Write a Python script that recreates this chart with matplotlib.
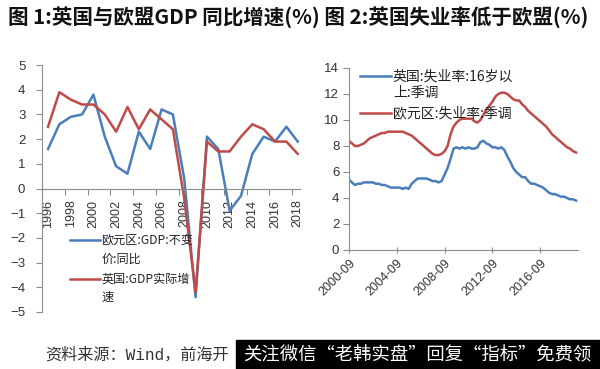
import numpy as np
import pandas as pd
import matplotlib
matplotlib.use("Agg")
import matplotlib.pyplot as plt
from matplotlib.patches import Rectangle

plt.rcParams['font.family'] = ['Liberation Sans', 'Noto Sans CJK SC', 'DejaVu Sans']

# ---- data ---------------------------------------------------------------
years = list(range(1996, 2019))
ez_gdp = [1.6, 2.6, 2.9, 3.0, 3.8, 2.1, 0.9, 0.6, 2.3, 1.6, 3.2, 3.0,
          0.4, -4.4, 2.1, 1.6, -0.9, -0.3, 1.4, 2.1, 1.9, 2.5, 1.9]
uk_gdp = [2.5, 3.9, 3.6, 3.4, 3.4, 3.0, 2.3, 3.3, 2.4, 3.2, 2.8, 2.4,
          -0.4, -4.2, 1.9, 1.5, 1.5, 2.1, 2.6, 2.4, 1.9, 1.9, 1.4]

# quarterly, 2000-09 .. 2019-09
uk_unemp = [5.4, 5.2,
            5.0, 5.1, 5.1, 5.2,
            5.2, 5.2, 5.2, 5.1,
            5.1, 5.0, 5.0, 4.9,
            4.8, 4.8, 4.8, 4.8,
            4.7, 4.8, 4.7, 5.1,
            5.3, 5.5, 5.5, 5.5,
            5.5, 5.4, 5.3, 5.3,
            5.2, 5.3, 5.8, 6.3,
            7.0, 7.8, 7.9, 7.8,
            7.9, 7.8, 7.9, 7.8,
            7.8, 7.9, 8.3, 8.4,
            8.2, 8.1, 7.9, 7.9,
            7.8, 7.9, 7.7, 7.2,
            6.8, 6.3, 6.0, 5.8,
            5.6, 5.6, 5.3, 5.1,
            5.1, 5.0, 4.9, 4.8,
            4.6, 4.4, 4.3, 4.3,
            4.2, 4.1, 4.1, 4.0,
            3.9, 3.9, 3.8]
ez_unemp = [8.4, 8.2,
            8.0, 8.0, 8.1, 8.2,
            8.4, 8.6, 8.7, 8.8,
            8.9, 9.0, 9.0, 9.1,
            9.1, 9.1, 9.1, 9.1,
            9.1, 9.0, 8.9, 8.8,
            8.6, 8.4, 8.2, 8.0,
            7.8, 7.6, 7.4, 7.3,
            7.3, 7.4, 7.6, 8.0,
            8.9, 9.5, 9.8, 10.0,
            10.1, 10.1, 10.1, 10.1,
            9.9, 9.8, 10.0, 10.4,
            10.8, 11.1, 11.4, 11.8,
            12.0, 12.1, 12.1, 12.0,
            11.8, 11.6, 11.5, 11.5,
            11.2, 11.0, 10.7, 10.5,
            10.3, 10.1, 9.9, 9.7,
            9.5, 9.2, 8.9, 8.7,
            8.5, 8.3, 8.1, 7.9,
            7.8, 7.6, 7.5]
dates = pd.date_range("2000-09-01", periods=len(uk_unemp), freq="3MS")
date_ticks = ["2000-09", "2004-09", "2008-09", "2012-09", "2016-09"]

BLUE = "#4A7EBB"
RED = "#BE4B48"
GRAY = "#8C8C8C"
CJK = ['Noto Sans CJK SC', 'DejaVu Sans']

fig = plt.figure(figsize=(6.0, 3.69), dpi=100)

# ---- left: GDP growth ---------------------------------------------------
ax1 = fig.add_axes([42/600, 1-312/369, 258/600, 247/369])
ax1.plot(years, ez_gdp, color=BLUE, lw=1.8)
ax1.plot(years, uk_gdp, color=RED, lw=1.8)
ax1.set_ylim(-5, 5)
ax1.set_xlim(1995.47, 2018.2)
ax1.set_yticks(range(-5, 6))
ax1.spines[['top', 'right']].set_visible(False)
ax1.spines['bottom'].set_position(('data', 0))
for s in ('left', 'bottom'):
    ax1.spines[s].set_color(GRAY)
ax1.set_xticks(np.arange(1995.5, 2018.6, 2))
ax1.set_xticklabels([])
ax1.set_xticks(years[::2], minor=True)
ax1.set_xticklabels([str(y) for y in years[::2]], minor=True, rotation=90,
                    fontsize=9, color="#333333")
ax1.tick_params(axis='x', which='major', length=4, color=GRAY, direction='out')
ax1.tick_params(axis='x', which='minor', length=0, pad=8)
ax1.tick_params(axis='y', length=4, color=GRAY, labelsize=9.5,
                labelcolor="#333333", pad=8)
for ln in ax1.lines:
    ln.set_clip_on(False)

leg1 = [(BLUE, ["欧元区:GDP:不变", "价:同比"], 0.291),
        (RED, ["英国:GDP实际增", "速"], 0.134)]
for col, rows, yy in leg1:
    ax1.plot([0.109, 0.225], [yy, yy], color=col, lw=1.8,
             transform=ax1.transAxes, clip_on=False)
    for i, r in enumerate(rows):
        ax1.text(0.229, yy - i*0.076, r, transform=ax1.transAxes,
                 fontsize=8.7, va='center', ha='left', family=CJK,
                 color="#222222")

# ---- right: unemployment ------------------------------------------------
ax2 = fig.add_axes([349/600, 1-250/369, 229/600, 182/369])
ax2.plot(dates, uk_unemp, color=BLUE, lw=1.8)
ax2.plot(dates, ez_unemp, color=RED, lw=1.8)
ax2.set_ylim(0, 14)
ax2.set_yticks(range(0, 15, 2))
ax2.set_xlim(pd.Timestamp("2000-09-01"), pd.Timestamp("2019-11-01"))
ax2.spines[['top', 'right']].set_visible(False)
for s in ('left', 'bottom'):
    ax2.spines[s].set_color(GRAY)
ax2.set_xticks([pd.Timestamp(d + "-01") for d in date_ticks])
ax2.set_xticklabels(date_ticks, rotation=45, ha='right',
                    rotation_mode='anchor', fontsize=9, color="#333333")
ax2.tick_params(axis='x', length=4, direction='inout', color=GRAY, pad=3)
ax2.tick_params(axis='y', length=4, color=GRAY, labelsize=9.5,
                labelcolor="#333333", pad=3)

leg2 = [(BLUE, ["英国:失业率:16岁以", "上:季调"], 0.956),
        (RED, ["欧元区:失业率:季调"], 0.753)]
for col, rows, yy in leg2:
    ax2.plot([0.048, 0.183], [yy, yy], color=col, lw=1.8,
             transform=ax2.transAxes, clip_on=False)
    for i, r in enumerate(rows):
        ax2.text(0.192, yy - i*0.093, r, transform=ax2.transAxes,
                 fontsize=10, va='center', ha='left', family=CJK,
                 color="#222222")

# ---- titles & footer ----------------------------------------------------
fig.text(8/600, 1-17/369, "图 1:英国与欧盟GDP 同比增速(%) 图 2:英国失业率低于欧盟(%)",
         fontsize=14.8, fontweight='bold', family=CJK, va='center', ha='left',
         color="#111111")
fig.text(45/600, 1-355/369, "资料来源：Wind，前海开", fontsize=11.6,
         family=['Liberation Mono', 'Noto Sans CJK SC', 'DejaVu Sans'],
         va='center', ha='left', color="#333333")
fig.patches.append(Rectangle((236/600, 0), 1 - 236/600, 29/369,
                             transform=fig.transFigure, color="black",
                             zorder=5))
fig.text(243/600, 1-355/369, "关注微信“老韩实盘”回复“指标”免费领",
         fontsize=13.2, family=CJK, va='center', ha='left', color="white",
         zorder=6)

fig.savefig("out.png", dpi=100, facecolor="white")
